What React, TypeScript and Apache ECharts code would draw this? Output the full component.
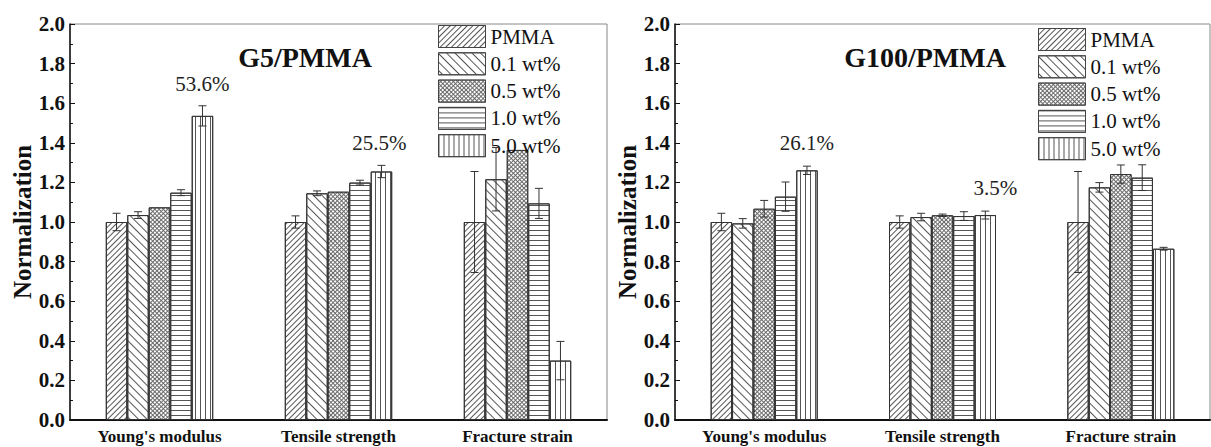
import React, { useEffect, useRef } from 'react';
import * as echarts from 'echarts';

const categories = ["Young's modulus", 'Tensile strength', 'Fracture strain'];
const seriesNames = ['PMMA', '0.1 wt%', '0.5 wt%', '1.0 wt%', '5.0 wt%'];

// G5/PMMA values (per series, across categories) and error half-widths
const g5PMMA = [1.0, 1.0, 1.0];
const g5W01 = [1.035, 1.145, 1.216];
const g5W05 = [1.074, 1.153, 1.364];
const g5W10 = [1.148, 1.199, 1.094];
const g5W50 = [1.536, 1.255, 0.3];
const g5ErrPMMA = [0.044, 0.031, 0.255];
const g5ErrW01 = [0.017, 0.012, 0.16];
const g5ErrW05 = [0, 0, 0];
const g5ErrW10 = [0.015, 0.012, 0.076];
const g5ErrW50 = [0.051, 0.031, 0.097];

// G100/PMMA
const g100PMMA = [1.0, 1.0, 1.0];
const g100W01 = [0.993, 1.025, 1.175];
const g100W05 = [1.067, 1.034, 1.242];
const g100W10 = [1.128, 1.03, 1.224];
const g100W50 = [1.261, 1.035, 0.865];
const g100ErrPMMA = [0.044, 0.031, 0.255];
const g100ErrW01 = [0.024, 0.019, 0.024];
const g100ErrW05 = [0.042, 0.006, 0.046];
const g100ErrW10 = [0.074, 0.022, 0.065];
const g100ErrW50 = [0.021, 0.02, 0.007];

// annotations: [category index, text]
const g5Notes: [number, string][] = [[0, '53.6%'], [1, '25.5%']];
const g100Notes: [number, string][] = [[0, '26.1%'], [1, '3.5%']];

const SERIF = "'Liberation Serif', 'Times New Roman', serif";

const barColors = ['#fff', '#fff', '#6a6a6a', '#fff', '#fff'];
const decals: any[] = [
  { symbol: 'rect', symbolSize: 1, dashArrayX: [1, 0], dashArrayY: [1, 3], rotation: -Math.PI / 4, color: '#555' },
  { symbol: 'rect', symbolSize: 1, dashArrayX: [1, 0], dashArrayY: [1, 5], rotation: Math.PI / 4, color: '#555' },
  { symbol: 'rect', symbolSize: 1, dashArrayX: [2, 1], dashArrayY: [2, 1], rotation: Math.PI / 4, color: '#fff' },
  { symbol: 'rect', symbolSize: 1, dashArrayX: [1, 0], dashArrayY: [1, 4], rotation: 0, color: '#555' },
  { symbol: 'rect', symbolSize: 1, dashArrayX: [1, 4], dashArrayY: [1, 0], rotation: 0, color: '#555' },
];

function buildBars(values: number[][], notes: [number, string][], axisIdx: number, distances: number[], offsets: number[][]) {
  return values.map((vals, s) => ({
    type: 'bar',
    name: seriesNames[s],
    xAxisIndex: axisIdx,
    yAxisIndex: axisIdx,
    barGap: '0%',
    barCategoryGap: '40%',
    itemStyle: { color: barColors[s], borderColor: '#333', borderWidth: 1, decal: decals[s] },
    data: vals.map((v, c) => {
      const ni = s === 4 ? notes.findIndex((n) => n[0] === c) : -1;
      if (ni < 0) return v;
      return {
        value: v,
        label: {
          show: true,
          position: 'top',
          distance: distances[ni],
          offset: offsets[ni],
          formatter: notes[ni][1],
          fontFamily: SERIF,
          fontSize: 21,
          color: '#222',
        },
      };
    }),
  }));
}

function buildErr(values: number[][], errs: number[][], axisIdx: number) {
  const data: number[][] = [];
  values.forEach((vals, s) => vals.forEach((v, c) => data.push([c, s, v, errs[s][c]])));
  return {
    type: 'custom',
    name: 'err' + axisIdx,
    xAxisIndex: axisIdx,
    yAxisIndex: axisIdx,
    z: 5,
    clip: false,
    encode: { x: 0, y: 2 },
    data,
    renderItem: (params: any, api: any) => {
      const c = api.value(0);
      const s = api.value(1);
      const v = api.value(2);
      const e = api.value(3);
      if (!e) return { type: 'group', children: [] };
      const band = api.size([1, 0])[0];
      const bw = band * 0.12;
      const x = api.coord([c, v])[0] + (s - 2) * bw;
      const yT = api.coord([c, v + e])[1];
      const yB = api.coord([c, v - e])[1];
      const cap = 4;
      const style = { stroke: '#333', lineWidth: 1 };
      return {
        type: 'group',
        children: [
          { type: 'line', shape: { x1: x, y1: yT, x2: x, y2: yB }, style },
          { type: 'line', shape: { x1: x - cap, y1: yT, x2: x + cap, y2: yT }, style },
          { type: 'line', shape: { x1: x - cap, y1: yB, x2: x + cap, y2: yB }, style },
        ],
      };
    },
  };
}

function xAxisDef(gridIndex: number) {
  return {
    type: 'category',
    gridIndex,
    data: categories,
    axisTick: { show: false },
    axisLine: { lineStyle: { color: '#111', width: 2 } },
    axisLabel: { fontFamily: SERIF, fontWeight: 'bold', fontSize: 17, color: '#111', margin: 8 },
  };
}

function yAxisDef(gridIndex: number) {
  return {
    type: 'value',
    gridIndex,
    min: 0,
    max: 2,
    interval: 0.2,
    name: 'Normalization',
    nameLocation: 'middle',
    nameGap: 35,
    nameTextStyle: { fontFamily: SERIF, fontWeight: 'bold', fontSize: 25, color: '#111' },
    axisLine: { show: true, lineStyle: { color: '#111', width: 1.5 } },
    axisTick: { show: true, inside: true, length: 5, lineStyle: { color: '#111' } },
    minorTick: { show: true, splitNumber: 2, length: 3, lineStyle: { color: '#111' } },
    splitLine: { show: false },
    axisLabel: {
      fontFamily: SERIF,
      fontWeight: 'bold',
      fontSize: 21,
      color: '#111',
      margin: 5,
      formatter: (v: number) => v.toFixed(1),
    },
  };
}

function legendDef(left: number, top: number) {
  return {
    data: seriesNames,
    orient: 'vertical',
    left,
    top,
    padding: 0,
    icon: 'rect',
    itemWidth: 47,
    itemHeight: 22,
    itemGap: 4.3,
    selectedMode: false,
    itemStyle: { borderColor: '#444', borderWidth: 1 },
    textStyle: { fontFamily: SERIF, fontSize: 21, color: '#111' },
  };
}

export default function App() {
  const ref = useRef<HTMLDivElement>(null);
  useEffect(() => {
    if (!ref.current) return;
    const chart = echarts.init(ref.current, undefined, { renderer: 'svg' });
    const g5Vals = [g5PMMA, g5W01, g5W05, g5W10, g5W50];
    const g5Errs = [g5ErrPMMA, g5ErrW01, g5ErrW05, g5ErrW10, g5ErrW50];
    const g100Vals = [g100PMMA, g100W01, g100W05, g100W10, g100W50];
    const g100Errs = [g100ErrPMMA, g100ErrW01, g100ErrW05, g100ErrW10, g100ErrW50];
    chart.setOption({
      animation: false,
      backgroundColor: '#fff',
      grid: [
        { left: 70, top: 24, width: 537, height: 396, show: true, borderColor: '#888', borderWidth: 1, backgroundColor: 'transparent' },
        { left: 675, top: 24, width: 535, height: 396, show: true, borderColor: '#888', borderWidth: 1, backgroundColor: 'transparent' },
      ],
      xAxis: [xAxisDef(0), xAxisDef(1)],
      yAxis: [yAxisDef(0), yAxisDef(1)],
      legend: [legendDef(438, 25), legendDef(1038, 28)],
      graphic: [
        { type: 'text', x: 305, y: 57, style: { text: 'G5/PMMA', font: `bold 28px ${SERIF}`, fill: '#111', align: 'center', verticalAlign: 'middle' } },
        { type: 'text', x: 925, y: 57, style: { text: 'G100/PMMA', font: `bold 28px ${SERIF}`, fill: '#111', align: 'center', verticalAlign: 'middle' } },
      ],
      series: [
        ...buildBars(g5Vals, g5Notes, 0, [21, 18], [[0, 0], [-2, 0]]),
        ...buildBars(g100Vals, g100Notes, 1, [17, 17], [[0, 0], [10, 0]]),
        buildErr(g5Vals, g5Errs, 0),
        buildErr(g100Vals, g100Errs, 1),
      ],
    } as any);
    return () => chart.dispose();
  }, []);
  return <div ref={ref} style={{ position: 'absolute', left: 0, top: 0, width: 1211, height: 447 }} />;
}
